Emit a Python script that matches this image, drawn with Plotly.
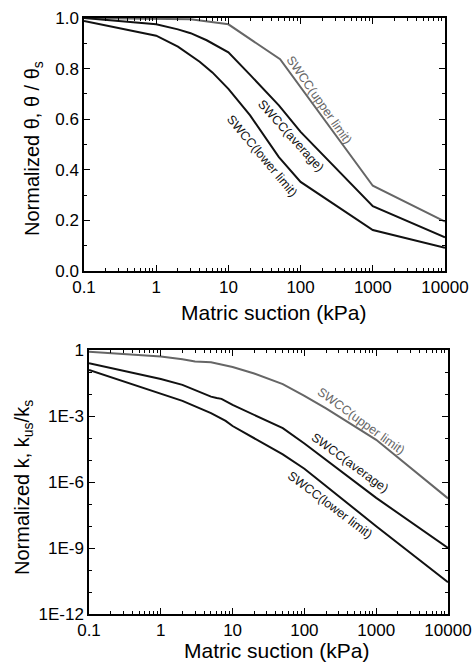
import plotly.graph_objects as go

W, H = 475, 668

# ---------------- data: top panel (normalized water content) -------------
theta_upper_x = [0.1, 1, 3, 10, 52, 1000, 10000]
theta_upper_y = [1.0, 0.998, 0.995, 0.975, 0.837, 0.337, 0.195]

theta_avg_x = [0.1, 1, 2, 3, 5, 10, 20, 50, 100, 1000, 10000]
theta_avg_y = [1.0, 0.975, 0.955, 0.94, 0.912, 0.864, 0.775, 0.655, 0.55, 0.256, 0.133]

theta_low_x = [0.1, 1, 2, 4, 6, 10, 20, 50, 100, 1000, 10000]
theta_low_y = [0.988, 0.93, 0.887, 0.827, 0.785, 0.72, 0.615, 0.45, 0.352, 0.162, 0.092]

# ---------------- data: bottom panel (normalized permeability) -----------
k_upper_x = [0.1, 1, 2, 3, 5, 10, 20, 50, 100, 200, 1000, 10000]
k_upper_y = [0.83, 0.50, 0.38, 0.30, 0.275, 0.17, 0.085, 0.028, 8.3e-3, 2.2e-3, 8.3e-5, 1.8e-7]

k_avg_x = [0.1, 1, 2, 5, 6, 7, 10, 50, 100, 1000, 10000]
k_avg_y = [0.25, 0.048, 0.026, 7.6e-3, 6.6e-3, 6.0e-3, 3.2e-3, 2.8e-4, 5.6e-5, 1.9e-7, 1.0e-9]

k_low_x = [0.1, 1, 2, 5, 8, 10, 50, 100, 1000, 10000]
k_low_y = [0.123, 0.011, 4.9e-3, 1.35e-3, 6.0e-4, 3.5e-4, 1.8e-5, 4.0e-6, 9.8e-9, 2.8e-11]

x_tickvals = [0.1, 1, 10, 100, 1000, 10000]
x_ticktext = ["0.1", "1", "10", "100", "1000", "10000"]
k_tickvals = [1e-12, 1e-9, 1e-6, 1e-3, 1]
k_ticktext = ["1E-12", "1E-9", "1E-6", "1E-3", "1"]

labels = ["SWCC(upper limit)", "SWCC(average)", "SWCC(lower limit)"]

GRAY = "#666666"
BLACK = "#111111"
FONT = "Arial, Liberation Sans, sans-serif"

x_minor = [m * 10 ** e for e in range(-1, 4) for m in range(2, 10)]
k_minor = [10.0 ** e for e in range(-12, 1)]

fig = go.Figure()
fig.add_trace(go.Scatter(x=theta_upper_x, y=theta_upper_y, mode="lines",
                         line=dict(color=GRAY, width=2), xaxis="x", yaxis="y"))
fig.add_trace(go.Scatter(x=theta_avg_x, y=theta_avg_y, mode="lines",
                         line=dict(color=BLACK, width=2), xaxis="x", yaxis="y"))
fig.add_trace(go.Scatter(x=theta_low_x, y=theta_low_y, mode="lines",
                         line=dict(color=BLACK, width=2), xaxis="x", yaxis="y"))
fig.add_trace(go.Scatter(x=k_upper_x, y=k_upper_y, mode="lines",
                         line=dict(color=GRAY, width=2), xaxis="x2", yaxis="y2"))
fig.add_trace(go.Scatter(x=k_avg_x, y=k_avg_y, mode="lines",
                         line=dict(color=BLACK, width=2), xaxis="x2", yaxis="y2"))
fig.add_trace(go.Scatter(x=k_low_x, y=k_low_y, mode="lines",
                         line=dict(color=BLACK, width=2), xaxis="x2", yaxis="y2"))

common = dict(showline=True, linecolor="black", linewidth=1.5, mirror="allticks",
              ticks="inside", ticklen=6, tickwidth=1.2, tickcolor="black",
              showgrid=False, zeroline=False, automargin=False,
              tickfont=dict(family=FONT, size=17, color="black"))

def xax(domain, anchor):
    return dict(common, type="log", range=[-1, 4], domain=domain, anchor=anchor,
                tickmode="array", tickvals=x_tickvals, ticktext=x_ticktext,
                minor=dict(ticks="inside", ticklen=3, tickcolor="black",
                           tickmode="array", tickvals=x_minor))

def px(x):
    return x / W

def py(y):
    return 1 - y / H

fig.update_layout(
    width=W, height=H,
    margin=dict(l=0, r=0, t=0, b=0, autoexpand=False),
    paper_bgcolor="white", plot_bgcolor="white",
    showlegend=False,
    font=dict(family=FONT, color="black"),
    xaxis=xax([px(84), px(445)], "y"),
    yaxis=dict(common, domain=[py(271), py(18)], anchor="x", range=[0, 1],
               dtick=0.2, tickformat=".1f",
               minor=dict(ticks="inside", ticklen=3, tickcolor="black", dtick=0.1)),
    xaxis2=xax([px(89), px(448)], "y2"),
    yaxis2=dict(common, type="log", domain=[py(614), py(350)], anchor="x2",
                range=[-12, 0], tickmode="array", tickvals=k_tickvals,
                ticktext=k_ticktext,
                minor=dict(ticks="inside", ticklen=3, tickcolor="black",
                           tickmode="array", tickvals=k_minor)),
)

def note(x, y, text, size, color="black", angle=0):
    return dict(x=px(x), y=py(y), text=text, showarrow=False, textangle=angle,
                xref="paper", yref="paper", xanchor="center", yanchor="middle",
                font=dict(size=size, color=color, family=FONT))

ann = [
    note(274, 312, "Matric suction (kPa)", 21),
    note(277, 650, "Matric suction (kPa)", 21),
    note(33, 149, "Normalized θ, θ / θ<sub>s</sub>", 20, angle=-90),
    note(23, 488, "Normalized k, k<sub>us</sub>/k<sub>s</sub>", 20, angle=-90),
]
# curve labels, top
for (lx, ly, ang, col, t) in [(319, 100, 55, GRAY, labels[0]),
                              (291, 136, 48, BLACK, labels[1]),
                              (262, 156, 50, BLACK, labels[2])]:
    ann.append(note(lx, ly, t, 12.5, col, ang))
# curve labels, bottom
for (lx, ly, ang, col, t) in [(361, 421, 36, GRAY, labels[0]),
                              (350, 463, 36, BLACK, labels[1]),
                              (330, 505, 37, BLACK, labels[2])]:
    ann.append(note(lx, ly, t, 12.5, col, ang))
fig.update_layout(annotations=ann)

fig.write_html("out.html", config={"displayModeBar": False},
               post_script="document.body.style.margin='0';")
